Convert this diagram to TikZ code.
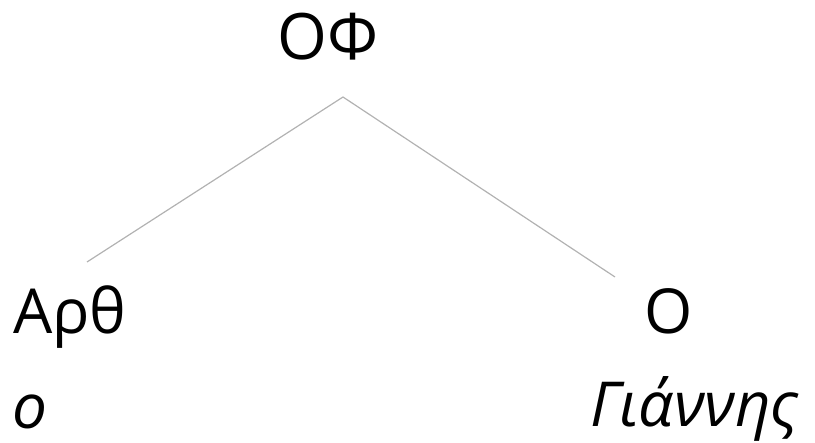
\documentclass[tikz,border=0pt]{standalone}
\usepackage{fontspec}
\setmainfont{Open Sans}
\begin{document}
\begin{tikzpicture}[x=1pt,y=-1pt,
  lbl/.style={inner sep=0pt,anchor=base west,font=\fontsize{62}{70}\selectfont},
  edge/.style={draw=black!30,line width=1.2pt}]
\useasboundingbox (0,0) rectangle (815,443);
\node[lbl,anchor=base,font=\fontsize{64}{70}\selectfont] (root) at (328,60) {ΟΦ};
\node[lbl] (art) at (13,334) {Αρθ};
\node[lbl] (arto) at (12,429) {\itshape ο};
\node[lbl,anchor=base] (n) at (669,334) {Ο};
\node[lbl] (nw) at (590,427) {\itshape Γιάννης};
\coordinate (top) at (343,97);
\coordinate (lend) at (87,262);
\coordinate (rend) at (615,277);
\draw[edge] (lend) -- (top) -- (rend);
\end{tikzpicture}
\end{document}
